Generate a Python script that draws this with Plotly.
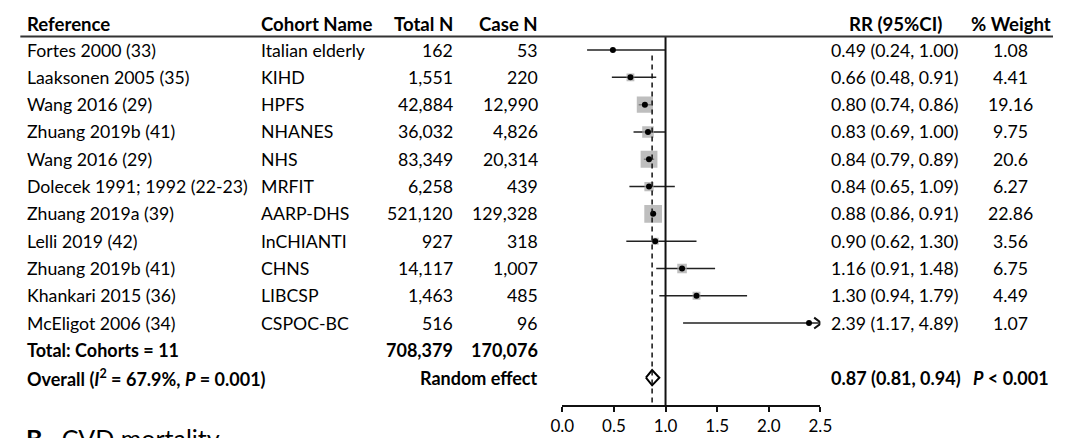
import plotly.graph_objects as go

# ---------------- data ----------------
refs = ["Fortes 2000 (33)", "Laaksonen 2005 (35)", "Wang 2016 (29)", "Zhuang 2019b (41)",
        "Wang 2016 (29)", "Dolecek 1991; 1992 (22-23)", "Zhuang 2019a (39)", "Lelli 2019 (42)",
        "Zhuang 2019b (41)", "Khankari 2015 (36)", "McEligot 2006 (34)"]
cohorts = ["Italian elderly", "KIHD", "HPFS", "NHANES", "NHS", "MRFIT", "AARP-DHS",
           "InCHIANTI", "CHNS", "LIBCSP", "CSPOC-BC"]
total_n = [162, 1551, 42884, 36032, 83349, 6258, 521120, 927, 14117, 1463, 516]
case_n = [53, 220, 12990, 4826, 20314, 439, 129328, 318, 1007, 485, 96]
rr = [0.49, 0.66, 0.80, 0.83, 0.84, 0.84, 0.88, 0.90, 1.16, 1.30, 2.39]
ci_lo = [0.24, 0.48, 0.74, 0.69, 0.79, 0.65, 0.86, 0.62, 0.91, 0.94, 1.17]
ci_hi = [1.00, 0.91, 0.86, 1.00, 0.89, 1.09, 0.91, 1.30, 1.48, 1.79, 4.89]
weight_labels = ["1.08", "4.41", "19.16", "9.75", "20.6", "6.27", "22.86", "3.56", "6.75", "4.49", "1.07"]
total_label = "Total: Cohorts = 11"
total_n_sum = "708,379"
case_n_sum = "170,076"
overall_rr, overall_lo, overall_hi = 0.87, 0.81, 0.94
overall_i2, overall_p_het = "67.9%", "0.001"
overall_p = "< 0.001"
x_ticks = [0.0, 0.5, 1.0, 1.5, 2.0, 2.5]

# ---------------- layout helpers ----------------
W, H = 1065, 438
FONT = "Lato"
FS = 17.7
FS_HEAD = 18.6
FS_BOLD = 18
XMAX = 2.5
n = len(refs)
rows = list(range(n))
row_total = n
row_overall = n + 1
row_header = -0.97
row_rule = -0.495
Y_TOP = -1.54
Y_BOTTOM = 13.0


def px(x):
    return x / W


fig = go.Figure()

# CI lines (clipped at axis max)
cx, cy = [], []
for i in rows:
    cx += [ci_lo[i], min(ci_hi[i], XMAX), None]
    cy += [i, i, None]
fig.add_trace(go.Scatter(x=cx, y=cy, mode="lines", line=dict(color="#222", width=1.5),
                         hoverinfo="skip", showlegend=False))

# arrow heads for clipped CIs
ax_, ay_ = [], []
for i in rows:
    if ci_hi[i] > XMAX:
        ax_ += [XMAX - 0.06, XMAX + 0.01, XMAX - 0.06, None]
        ay_ += [i - 0.2, i, i + 0.2, None]
fig.add_trace(go.Scatter(x=ax_, y=ay_, mode="lines", line=dict(color="#111", width=2),
                         hoverinfo="skip", showlegend=False, cliponaxis=False))

# weight squares
weights = [float(w) for w in weight_labels]
fig.add_trace(go.Scatter(x=rr, y=rows, mode="markers",
                         marker=dict(symbol="square", color="#a3a3a3",
                                     size=[3.7 * w ** 0.5 for w in weights], line=dict(width=0)),
                         hoverinfo="skip", showlegend=False))
# point estimates
fig.add_trace(go.Scatter(x=rr, y=rows, mode="markers",
                         marker=dict(symbol="circle", color="#000", size=6),
                         hoverinfo="skip", showlegend=False))

# overall diamond
dh = 0.28
fig.add_trace(go.Scatter(x=[overall_lo, overall_rr, overall_hi, overall_rr, overall_lo],
                         y=[row_overall, row_overall - dh, row_overall, row_overall + dh, row_overall],
                         mode="lines", fill="toself", fillcolor="white",
                         line=dict(color="#000", width=2), hoverinfo="skip", showlegend=False))

# reference lines
fig.add_shape(type="line", xref="x", yref="y", x0=1.0, x1=1.0, y0=row_rule, y1=Y_BOTTOM,
              line=dict(color="#111", width=2))
fig.add_shape(type="line", xref="x", yref="y", x0=overall_rr, x1=overall_rr, y0=0.2, y1=Y_BOTTOM,
              line=dict(color="#111", width=1.5, dash="5px,4px"))
# header rule
fig.add_shape(type="line", xref="paper", yref="y", x0=0.008, x1=1, y0=row_rule, y1=row_rule,
              line=dict(color="#333", width=2))

ann = []


def add_text(text, x, y, anchor="left", bold=False, size=None, yref="y"):
    if size is None:
        size = FS_BOLD if bold else FS
    t = f"<b>{text}</b>" if bold else text
    ann.append(dict(text=t, x=px(x), y=y, xref="paper", yref=yref, xanchor=anchor,
                    yanchor="middle", showarrow=False, font=dict(family=FONT, size=size, color="#000")))


# headers
add_text("Reference", 13, row_header, bold=True, size=FS_HEAD)
add_text("Cohort Name", 253, row_header, bold=True, size=FS_HEAD)
add_text("Total N", 453, row_header, "right", bold=True, size=FS_HEAD)
add_text("Case N", 540, row_header, "right", bold=True, size=FS_HEAD)
add_text("RR (95%CI)", 904, row_header, "center", bold=True, size=FS_HEAD)
add_text("% Weight", 1022, row_header, "center", bold=True, size=FS_HEAD)

for i in rows:
    add_text(refs[i], 13, i)
    add_text(cohorts[i], 253, i)
    add_text(f"{total_n[i]:,}", 453, i, "right")
    add_text(f"{case_n[i]:,}", 540, i, "right")
    add_text(f"{rr[i]:.2f} ({ci_lo[i]:.2f}, {ci_hi[i]:.2f})", 836, i)
    add_text(weight_labels[i], 1022, i, "center")

add_text(total_label, 13, row_total, bold=True)
add_text(total_n_sum, 453, row_total, "right", bold=True)
add_text(case_n_sum, 540, row_total, "right", bold=True)

add_text(f"Overall (<i>I</i><sup>2</sup> = {overall_i2}, <i>P</i> = {overall_p_het})", 13, row_overall, bold=True)
add_text("Random effect", 540, row_overall, "right", bold=True)
add_text(f"{overall_rr:.2f} ({overall_lo:.2f}, {overall_hi:.2f})", 836, row_overall, bold=True)
add_text(f"<i>P</i> {overall_p}", 1063, row_overall, "right", bold=True)

# panel label partially visible at bottom
ann.append(dict(text="<b>B</b>   CVD mortality", x=px(12), y=(H - 421) / H, xref="paper", yref="paper",
                xanchor="left", yanchor="top", showarrow=False,
                font=dict(family=FONT, size=25, color="#000")))

fig.update_layout(
    width=W, height=H,
    margin=dict(l=0, r=0, t=0, b=0),
    paper_bgcolor="white", plot_bgcolor="white",
    annotations=ann,
    xaxis=dict(domain=[563 / W, 827 / W], range=[0, XMAX], tickvals=x_ticks,
               tickformat=".1f", showgrid=False, zeroline=False, showline=True,
               linecolor="#111", linewidth=1.5, ticks="outside", ticklen=5, tickwidth=1.5,
               tickcolor="#111", tickfont=dict(family=FONT, size=17, color="#000")),
    yaxis=dict(domain=[(H - 405) / H, (H - 8) / H], range=[Y_BOTTOM, Y_TOP],
               visible=False, showgrid=False, zeroline=False),
)

fig.write_html("out.html", config={"displayModeBar": False},
               post_script="document.body.style.margin='0';document.body.style.overflow='hidden';")
